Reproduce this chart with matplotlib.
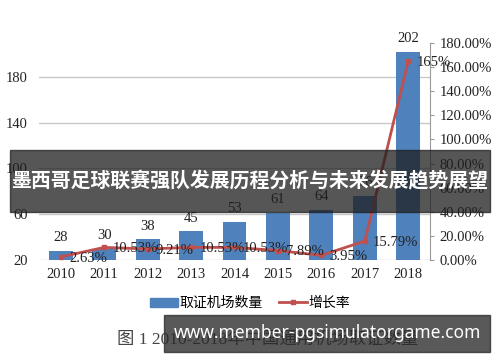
import numpy as np
import matplotlib
matplotlib.use('Agg')
import matplotlib.pyplot as plt
from matplotlib.patches import Rectangle, Patch
from matplotlib.lines import Line2D

# data
years = ['2010', '2011', '2012', '2013', '2014', '2015', '2016', '2017', '2018']
airports = [28, 30, 38, 45, 53, 61, 64, 76, 202]
growth = [2.63, 10.53, 9.21, 10.53, 10.53, 7.89, 3.95, 15.79, 165]
growth_labels = ['2.63%', '10.53%', '9.21%', '10.53%', '10.53%', '7.89%', '3.95%', '15.79%', '165%']
left_ticks = [20, 60, 100, 140, 180]
right_ticks = [0, 20, 40, 60, 80, 100, 120, 140, 160, 180]

title = '墨西哥足球联赛强队发展历程分析与未来发展趋势展望'
caption = '图 1 2010-2018年中国通用机场取证数量'
watermark = 'www.member-pgsimulatorgame.com'

plt.rcParams['font.family'] = ['Liberation Serif', 'Noto Sans CJK SC', 'DejaVu Sans']

bar_col = '#4f81bd'
line_col = '#c0504d'

fig = plt.figure(figsize=(5, 3.62), dpi=100)
ax = fig.add_axes([0.078, 0.2815, 0.782, 0.6])
x = np.arange(len(years))

#- bars on the left axis
ax.bar(x, airports, width=0.55, color=bar_col, zorder=2)
ax.set_xlim(-0.5, 8.5)
ax.set_ylim(20, 209.6)
ax.set_yticks(left_ticks)
ax.set_xticks(x)
ax.set_xticklabels(years)
ax.yaxis.grid(True, color='#c8c8c8', lw=1)
ax.set_axisbelow(True)
for s in ax.spines.values():
    s.set_visible(False)
ax.tick_params(axis='y', length=0, labelsize=10.5, colors='#222222', pad=8)
ax.tick_params(axis='x', length=0, labelsize=10.5, colors='#222222', pad=6)
for xi, v in zip(x, airports):
    ax.annotate(str(v), (xi, v), xytext=(0, 5), textcoords='offset points',
                ha='center', va='bottom', fontsize=10.5, color='#222222')

#- growth rate on the right axis
ax2 = ax.twinx()
ax2.plot(x, growth, color=line_col, lw=2, marker='s', ms=3, zorder=3)
ax2.set_ylim(0, 180)
ax2.set_yticks(right_ticks)
ax2.set_yticklabels(['%.2f%%' % v for v in right_ticks])
for k in ['top', 'left', 'bottom']:
    ax2.spines[k].set_visible(False)
ax2.spines['right'].set_color('#999999')
ax2.tick_params(axis='y', length=3, color='#999999', labelsize=10.5, colors='#222222', pad=4)
for xi, v, lab in zip(x, growth, growth_labels):
    ax2.annotate(lab, (xi, v), xytext=(6, -1), textcoords='offset points',
                 ha='left', va='center', fontsize=10.5, color='#222222')

#- legend
handles = [Patch(color=bar_col), Line2D([], [], color=line_col, lw=2, marker='s', ms=3)]
fig.legend(handles, ['取证机场数量', '增长率'], loc='center', bbox_to_anchor=(0.5, 0.163),
           ncol=2, frameon=False, handlelength=2.0, handleheight=0.6, columnspacing=1.2,
           handletextpad=0.1, prop={'family': 'Noto Sans CJK SC', 'size': 10})

fig.text(0.234, 0.061, caption, fontsize=12.5, color='#444444', va='center', ha='left',
         family=['Liberation Serif', 'Noto Sans CJK SC'], zorder=1)

#- overlay banners
fig.patches.append(Rectangle((0.02, 0.414), 0.96, 0.171, transform=fig.transFigure,
                             color='#1e1e1e', alpha=0.75, zorder=5))
fig.text(0.5, 0.5, title, color='white', fontsize=14.3, fontweight='bold', ha='center',
         va='center', family='Noto Sans CJK SC', zorder=6)
fig.patches.append(Rectangle((0.328, 0.028), 0.652, 0.102, transform=fig.transFigure,
                             color='#2a2a2a', alpha=0.78, zorder=5))
fig.text(0.655, 0.079, watermark, color='white', fontsize=12.5, fontweight='bold',
         ha='center', va='center', family='Noto Sans', zorder=6)

plt.savefig('out.png', dpi=100)
